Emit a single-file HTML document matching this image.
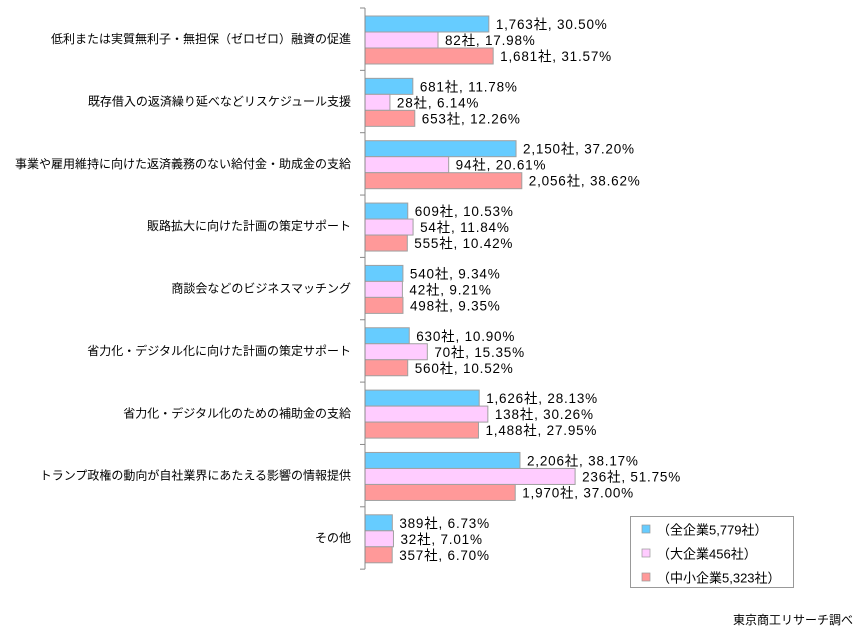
<!DOCTYPE html>
<html><head><meta charset="utf-8"><style>
body{margin:0;background:#fff;width:861px;height:638px;overflow:hidden;font-family:"Liberation Sans","Noto Sans CJK JP",sans-serif}
svg text{font-family:"Liberation Sans","Noto Sans CJK JP",sans-serif}
</style></head><body>
<svg id="chart" width="861" height="638"></svg>
<script>
const categories=["低利または実質無利子・無担保（ゼロゼロ）融資の促進","既存借入の返済繰り延べなどリスケジュール支援","事業や雇用維持に向けた返済義務のない給付金・助成金の支給","販路拡大に向けた計画の策定サポート","商談会などのビジネスマッチング","省力化・デジタル化に向けた計画の策定サポート","省力化・デジタル化のための補助金の支給","トランプ政権の動向が自社業界にあたえる影響の情報提供","その他"];
const seriesNames=["（全企業5,779社）","（大企業456社）","（中小企業5,323社）"];
const allPct=[30.50,11.78,37.20,10.53,9.34,10.90,28.13,38.17,6.73];
const largePct=[17.98,6.14,20.61,11.84,9.21,15.35,30.26,51.75,7.01];
const smePct=[31.57,12.26,38.62,10.42,9.35,10.52,27.95,37.00,6.70];
const allCnt=["1,763","681","2,150","609","540","630","1,626","2,206","389"];
const largeCnt=["82","28","94","54","42","70","138","236","32"];
const smeCnt=["1,681","653","2,056","555","498","560","1,488","1,970","357"];
const NS="http://www.w3.org/2000/svg";
const svg=document.getElementById('chart');
const colors=["#66ccff","#ffccff","#ff9999"];
const x0=365,topY=8,gh=62.35,bh=16;
const xs=v=>x0+v*4.06;
function mk(t,a){const e=document.createElementNS(NS,t);for(const k in a)e.setAttribute(k,a[k]);svg.appendChild(e);return e;}
const series=[[allPct,allCnt],[largePct,largeCnt],[smePct,smeCnt]];
categories.forEach((c,i)=>{
  const gy=topY+gh*i;
  const t=mk('text',{x:351,y:gy+gh/2+4,'text-anchor':'end','font-size':12,fill:'#000'});t.textContent=c;
  
  
  series.forEach((s,k)=>{
    const y=gy+8+k*bh;
    const r=mk('rect',{x:x0,y:y,width:xs(s[0][i])-x0,height:bh,fill:colors[k],stroke:'#a0a0a0','stroke-width':1});
    
    
    const l=mk('text',{x:xs(s[0][i])+7,y:y+13,'font-size':13.5,'letter-spacing':0.8,fill:'#000'});
    l.textContent=s[1][i]+"社, "+s[0][i].toFixed(2)+"%";
    
    
  });
  const tk=mk('line',{x1:x0-5,x2:x0,y1:gy,y2:gy,stroke:'#888'});
  
  
});
const tk2=mk('line',{x1:x0-5,x2:x0,y1:topY+gh*9,y2:topY+gh*9,stroke:'#888'});


const ax=mk('line',{x1:x0,x2:x0,y1:topY,y2:topY+gh*9,stroke:'#888'});


const lb=mk('rect',{x:630.5,y:516.5,width:163,height:71,fill:'#fff',stroke:'#999'});


seriesNames.forEach((n,k)=>{
  const y=530+k*24;
  const s=mk('rect',{x:642,y:y-5,width:8,height:8,fill:colors[k],stroke:'#999','stroke-width':0.7});
  
  
  const t=mk('text',{x:657,y:y+4.5,'font-size':13,fill:'#000'});t.textContent=n;
  
  
});
const src=mk('text',{x:853,y:624,'text-anchor':'end','font-size':12,fill:'#000'});src.textContent="東京商工リサーチ調べ";


</script>
</body></html>
